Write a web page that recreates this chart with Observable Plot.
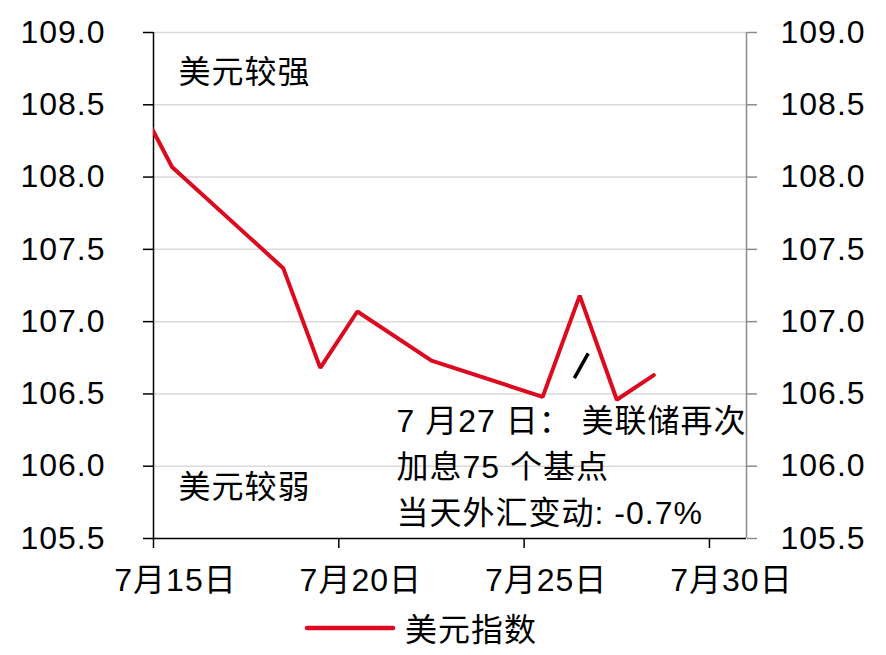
<!DOCTYPE html>
<html>
<head>
<meta charset="utf-8">
<script src="https://cdn.jsdelivr.net/npm/d3@7"></script>
<script src="https://cdn.jsdelivr.net/npm/@observablehq/plot@0.6"></script>
<style>
  body { margin: 0; background: #fff; }
  #wrap { position: relative; width: 886px; height: 655px; font-family: "Liberation Sans", Arial, "Noto Sans CJK SC", sans-serif; }
  #legend { position: absolute; left: 0; top: 605px; width: 886px; height: 50px; }
  svg text { letter-spacing: 1px; }
</style>
</head>
<body>
<div id="wrap">
  <div id="chart"></div>
  <div id="legend"></div>
</div>
<script>
// ---- data ----
const dates = ["2022-07-14", "2022-07-15", "2022-07-18", "2022-07-19", "2022-07-20", "2022-07-22", "2022-07-25", "2022-07-26", "2022-07-27", "2022-07-28"];
const dxyValues = [108.56, 108.07, 107.37, 106.68, 107.07, 106.73, 106.48, 107.18, 106.46, 106.63];
const xTicks = ["2022-07-15", "2022-07-20", "2022-07-25", "2022-07-30"];
const yTicks = [105.5, 106.0, 106.5, 107.0, 107.5, 108.0, 108.5, 109.0];
const xStart = "2022-07-15", xEnd = "2022-07-31";
const seriesName = "美元指数";
const labelStrong = "美元较强";
const labelWeak = "美元较弱";
const noteText = "7 月27 日： 美联储再次\n加息75 个基点\n当天外汇变动: -0.7%";
// slash marker pointing to the Jul 27 drop (date, value pairs)
const slash = [{x1: "2022-07-26T08:30", y1: 106.61, x2: "2022-07-26T17:30", y2: 106.78}];

const HALF_DAY = 12 * 3600 * 1000;
const data = dates.map((d, i) => ({date: new Date(new Date(d + "T00:00Z").getTime() + HALF_DAY), value: dxyValues[i]}));
const toDate = s => new Date(s + (s.length === 10 ? "T00:00Z" : "Z"));
const tickDates = xTicks.map(toDate);
const red = "#dc0a1e";
const font = '"Liberation Sans", Arial, "Noto Sans CJK SC", sans-serif';
const fmtX = d => `${d.getUTCMonth() + 1}月${d.getUTCDate()}日`;
const FS = 32;

const chart = Plot.plot({
  width: 886,
  height: 605,
  marginLeft: 153,
  marginRight: 140,
  marginTop: 32,
  marginBottom: 67,
  style: {fontFamily: font, fontSize: FS + "px", color: "#000", background: "#fff"},
  x: {type: "utc", domain: [toDate(xStart), toDate(xEnd)]},
  y: {domain: [105.5, 109]},
  marks: [
    Plot.gridY(yTicks.slice(1), {stroke: "#d9d9d9", strokeOpacity: 1, strokeWidth: 1.5}),
    Plot.ruleX([toDate(xEnd)], {stroke: "#8c8c8c", strokeWidth: 1.5}),
    Plot.ruleY([yTicks[0]], {stroke: "#000", strokeWidth: 1.5}),
    Plot.ruleX([toDate(xStart)], {stroke: "#000", strokeWidth: 1.5}),
    Plot.axisY(yTicks, {anchor: "left", tickSize: 10, tickPadding: 38, tickFormat: d => d.toFixed(1), stroke: "#000", fill: "#000", fontSize: FS, strokeWidth: 1.5}),
    Plot.axisY(yTicks, {anchor: "right", tickSize: 10, tickPadding: 24, tickFormat: d => d.toFixed(1), stroke: "#8c8c8c", fill: "#000", fontSize: FS, strokeWidth: 1.5}),
    Plot.axisX(tickDates, {anchor: "bottom", tickSize: 10, tickFormat: () => "", stroke: "#000", strokeWidth: 1.5}),
    Plot.axisX(tickDates, {anchor: "bottom", tickSize: 0, tickPadding: 30, dx: 22, tickFormat: fmtX, fill: "#000", fontSize: FS}),
    Plot.line(data, {x: "date", y: "value", stroke: red, strokeWidth: 4, clip: true, strokeLinejoin: "miter"}),
    Plot.link(slash, {x1: d => toDate(d.x1), y1: "y1", x2: d => toDate(d.x2), y2: "y2", stroke: "#000", strokeWidth: 3.5}),
    Plot.text([labelStrong], {frameAnchor: "top-left", lineAnchor: "middle", dx: 25, dy: 40, text: d => d, textAnchor: "start", fill: "#000", fontSize: FS}),
    Plot.text([labelWeak], {frameAnchor: "top-left", lineAnchor: "middle", dx: 25, dy: 455, text: d => d, textAnchor: "start", fill: "#000", fontSize: FS}),
    Plot.text([noteText], {frameAnchor: "top-left", lineAnchor: "middle", dx: 243, dy: 431, text: d => d, textAnchor: "start", lineHeight: 1.44, fill: "#000", fontSize: FS})
  ]
});
document.getElementById("chart").appendChild(chart);

// legend
const legend = document.getElementById("legend");
legend.innerHTML = `<svg width="886" height="50" style="display:block">
  <line x1="307" x2="393" y1="23" y2="23" stroke="${red}" stroke-width="4.5" stroke-linecap="round"></line>
  <text x="405" y="25" dy="0.35em" font-size="${FS}" font-family='${font}' fill="#000">${seriesName}</text>
</svg>`;
</script>
</body>
</html>
